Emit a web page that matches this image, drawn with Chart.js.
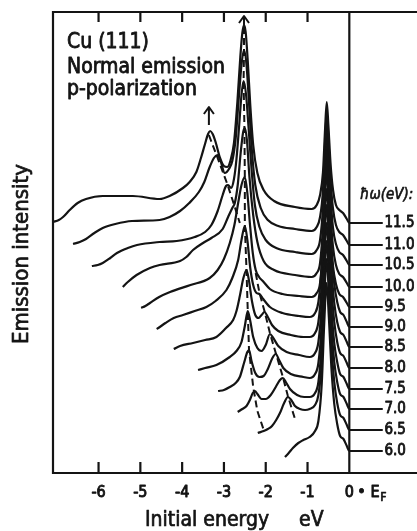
<!DOCTYPE html>
<html>
<head>
<meta charset="utf-8">
<title>Cu (111) normal emission spectra</title>
<script src="https://cdn.jsdelivr.net/npm/chart.js@4.4.1/dist/chart.umd.min.js"></script>
<style>
  html, body { margin: 0; padding: 0; background: #fff; overflow: hidden; }
  #wrap { width: 417px; height: 531px; overflow: hidden; }
  canvas { display: block; }
</style>
</head>
<body>
<div id="wrap"><canvas id="spectra" width="440" height="531"></canvas></div>
<script>
// photon energies, top curve first
const photonEnergies = ['11.5', '11.0', '10.5', '10.0', '9.5', '9.0', '8.5', '8.0', '7.5', '7.0', '6.5', '6.0'];
// zero line of every (offset) curve, arbitrary intensity units
const baselines = [250, 228, 208, 186, 166, 146, 126, 105, 84, 64, 43, 22];

// spectra as [initial energy (eV), intensity]
const spec115 = [[-7.09, 251], [-6.95, 253], [-6.85, 256], [-6.69, 263], [-6.5, 270], [-6.3, 274], [-5.9, 277], [-5.18, 277], [-4.54, 274], [-4.3, 277], [-3.98, 285], [-3.82, 291], [-3.66, 301], [-3.55, 315], [-3.46, 328], [-3.38, 339], [-3.33, 342], [-3.27, 339], [-3.2, 331], [-3.1, 316], [-3.0, 307], [-2.92, 306], [-2.84, 313], [-2.76, 330], [-2.68, 370], [-2.61, 415], [-2.56, 440], [-2.52, 448], [-2.48, 441], [-2.43, 412], [-2.37, 368], [-2.3, 328], [-2.2, 300], [-2.05, 283], [-1.8, 272], [-1.3, 266], [-0.9, 264], [-0.78, 268], [-0.7, 278], [-0.63, 301], [-0.58, 344], [-0.54, 371], [-0.5, 347], [-0.45, 310], [-0.39, 283], [-0.32, 268], [-0.24, 263], [-0.15, 260], [-0.06, 254], [0, 250], [0.8, 250]];
const spec110 = [[-6.61, 229], [-6.45, 231], [-6.3, 234], [-6.1, 240], [-5.9, 245], [-5.6, 249], [-5.2, 252], [-4.54, 253], [-4.3, 256], [-4.05, 262], [-3.83, 270], [-3.6, 281], [-3.47, 291], [-3.35, 305], [-3.24, 315], [-3.16, 318], [-3.08, 312], [-2.98, 300], [-2.88, 304], [-2.8, 312], [-2.72, 334], [-2.65, 372], [-2.58, 408], [-2.52, 423], [-2.46, 408], [-2.4, 370], [-2.33, 322], [-2.25, 288], [-2.12, 265], [-1.95, 253], [-1.7, 247], [-1.3, 244], [-0.9, 242], [-0.78, 246], [-0.7, 256], [-0.63, 283], [-0.58, 331], [-0.54, 360], [-0.5, 334], [-0.45, 294], [-0.39, 264], [-0.32, 248], [-0.24, 241], [-0.15, 238], [-0.06, 232], [0, 228], [0.8, 228]];
const spec105 = [[-6.16, 207], [-6.02, 208], [-5.9, 210], [-5.72, 215], [-5.56, 220], [-5.3, 225], [-5.08, 228], [-4.54, 231], [-4.13, 232], [-3.7, 236], [-3.45, 241], [-3.3, 248], [-3.15, 262], [-3.03, 278], [-2.95, 287], [-2.9, 288], [-2.83, 285], [-2.76, 294], [-2.7, 314], [-2.64, 345], [-2.58, 378], [-2.53, 392], [-2.47, 378], [-2.41, 345], [-2.34, 304], [-2.26, 268], [-2.15, 246], [-2.0, 233], [-1.75, 225], [-1.3, 221], [-0.9, 219], [-0.78, 223], [-0.7, 233], [-0.63, 266], [-0.58, 316], [-0.54, 346], [-0.5, 318], [-0.45, 277], [-0.39, 245], [-0.32, 229], [-0.24, 221], [-0.15, 218], [-0.06, 212], [0, 208], [0.8, 208]];
const spec100 = [[-5.42, 186], [-5.3, 191], [-5.09, 198], [-4.77, 205], [-4.54, 208], [-4.05, 212], [-3.9, 216], [-3.74, 223], [-3.5, 230], [-3.3, 235], [-3.03, 244], [-2.9, 256], [-2.8, 265], [-2.74, 270], [-2.67, 288], [-2.6, 320], [-2.54, 341], [-2.5, 345], [-2.45, 333], [-2.39, 296], [-2.3, 258], [-2.2, 231], [-2.05, 212], [-1.8, 203], [-1.3, 198], [-0.9, 196], [-0.78, 200], [-0.7, 210], [-0.63, 248], [-0.58, 301], [-0.54, 333], [-0.5, 304], [-0.45, 260], [-0.39, 226], [-0.32, 208], [-0.24, 199], [-0.15, 196], [-0.06, 190], [0, 186], [0.8, 186]];
const spec95 = [[-4.98, 165], [-4.88, 167], [-4.77, 170], [-4.55, 176], [-4.29, 181], [-3.8, 188], [-3.34, 195], [-3.15, 203], [-3.0, 214], [-2.86, 230], [-2.75, 248], [-2.66, 270], [-2.58, 288], [-2.5, 296], [-2.44, 280], [-2.38, 250], [-2.31, 220], [-2.24, 203], [-2.16, 196], [-2.07, 192], [-1.9, 184], [-1.6, 179], [-1.2, 177], [-0.9, 176], [-0.78, 180], [-0.7, 190], [-0.63, 229], [-0.58, 284], [-0.54, 317], [-0.5, 287], [-0.45, 242], [-0.39, 207], [-0.32, 189], [-0.24, 179], [-0.15, 176], [-0.06, 170], [0, 166], [0.8, 166]];
const spec90 = [[-4.61, 144], [-4.57, 145], [-4.4, 150], [-4.2, 155], [-3.98, 158], [-3.7, 162], [-3.42, 166], [-3.2, 172], [-2.94, 183], [-2.8, 195], [-2.66, 213], [-2.58, 233], [-2.5, 247], [-2.44, 233], [-2.37, 205], [-2.3, 188], [-2.22, 180], [-2.15, 179], [-2.06, 174], [-1.9, 166], [-1.6, 160], [-1.2, 157], [-0.95, 156], [-0.82, 160], [-0.74, 171], [-0.66, 208], [-0.6, 263], [-0.545, 300], [-0.49, 269], [-0.43, 223], [-0.36, 189], [-0.29, 171], [-0.22, 161], [-0.14, 158], [-0.06, 151], [0, 146], [0.8, 146]];
const spec85 = [[-4.2, 124], [-4.05, 127], [-3.74, 130], [-3.45, 133], [-3.18, 136], [-2.95, 145], [-2.78, 153], [-2.7, 162], [-2.62, 177], [-2.54, 194], [-2.46, 203], [-2.4, 192], [-2.33, 172], [-2.25, 158], [-2.17, 155], [-2.1, 158], [-2.03, 161], [-1.95, 156], [-1.85, 148], [-1.7, 142], [-1.4, 138], [-1.1, 136], [-0.95, 136], [-0.82, 140], [-0.74, 151], [-0.66, 189], [-0.6, 246], [-0.545, 284], [-0.49, 252], [-0.43, 205], [-0.36, 170], [-0.29, 151], [-0.22, 141], [-0.14, 138], [-0.06, 131], [0, 126], [0.8, 126]];
const spec80 = [[-3.62, 103], [-3.45, 105], [-3.18, 108], [-2.86, 116], [-2.7, 122], [-2.58, 131], [-2.5, 147], [-2.43, 162], [-2.37, 152], [-2.3, 136], [-2.2, 125], [-2.1, 122], [-2.0, 128], [-1.9, 139], [-1.82, 135], [-1.7, 127], [-1.5, 121], [-1.2, 118], [-0.95, 116], [-0.82, 120], [-0.74, 131], [-0.66, 170], [-0.6, 229], [-0.545, 268], [-0.49, 235], [-0.43, 187], [-0.36, 151], [-0.29, 131], [-0.22, 120], [-0.14, 117], [-0.06, 110], [0, 105], [0.8, 105]];
const spec75 = [[-3.14, 82], [-3.0, 83], [-2.86, 86], [-2.72, 90], [-2.62, 96], [-2.52, 110], [-2.44, 121], [-2.4, 123], [-2.34, 112], [-2.25, 100], [-2.15, 96], [-2.05, 97], [-1.95, 104], [-1.84, 115], [-1.76, 119], [-1.68, 113], [-1.58, 105], [-1.4, 99], [-1.1, 96], [-0.95, 95], [-0.82, 99], [-0.74, 110], [-0.66, 150], [-0.6, 210], [-0.545, 250], [-0.49, 217], [-0.43, 167], [-0.36, 130], [-0.29, 111], [-0.22, 99], [-0.14, 96], [-0.06, 89], [0, 84], [0.8, 84]];
const spec70 = [[-2.67, 61], [-2.56, 64], [-2.46, 67], [-2.38, 73], [-2.31, 80], [-2.26, 82], [-2.2, 79], [-2.1, 74], [-2.0, 74], [-1.88, 78], [-1.76, 86], [-1.66, 93], [-1.59, 95], [-1.52, 91], [-1.42, 84], [-1.25, 78], [-1.08, 76], [-0.95, 76], [-0.82, 80], [-0.74, 91], [-0.66, 131], [-0.6, 192], [-0.545, 232], [-0.49, 198], [-0.43, 148], [-0.36, 111], [-0.29, 91], [-0.22, 79], [-0.14, 76], [-0.06, 69], [0, 64], [0.8, 64]];
const spec65 = [[-2.19, 40], [-2.05, 42], [-1.95, 44], [-1.85, 47], [-1.75, 53], [-1.66, 60], [-1.56, 70], [-1.47, 76], [-1.39, 73], [-1.3, 67], [-1.18, 64], [-1.06, 63], [-0.95, 64], [-0.82, 68], [-0.74, 78], [-0.66, 111], [-0.6, 173], [-0.545, 214], [-0.49, 180], [-0.43, 129], [-0.36, 91], [-0.29, 70], [-0.22, 58], [-0.14, 55], [-0.06, 48], [0, 43], [0.8, 43]];
const spec60 = [[-1.54, 16], [-1.45, 20], [-1.35, 25], [-1.22, 30], [-1.1, 33], [-0.95, 36], [-0.82, 42], [-0.74, 52], [-0.66, 89], [-0.6, 150], [-0.545, 190], [-0.49, 156], [-0.43, 106], [-0.36, 69], [-0.29, 49], [-0.22, 37], [-0.14, 34], [-0.06, 27], [0, 22], [0.8, 22]];
const spectra = [spec115, spec110, spec105, spec100, spec95, spec90, spec85, spec80, spec75, spec70, spec65, spec60];

// dashed guides through the dispersing d-band peaks
const guideA = [[-2.52, 446], [-2.52, 420], [-2.53, 392], [-2.51, 345], [-2.5, 296], [-2.5, 247], [-2.46, 203], [-2.43, 162], [-2.4, 123], [-2.3, 86], [-2.2, 62], [-2.04, 42]];
const guideB = [[-3.36, 338], [-3.16, 316], [-2.92, 289], [-2.74, 266], [-2.62, 250]];
const guideC = [[-2.24, 200], [-2.15, 180], [-2.03, 162], [-1.9, 140], [-1.76, 120], [-1.59, 96], [-1.47, 77], [-1.3, 54]];
// off-scale peaks: [energy, arrow foot, arrow tip]
const peakArrows = [[-2.52, 446, 457], [-3.36, 348, 366]];

const xTicks = [-6, -5, -4, -3, -2, -1, 0];
const hvLabelAt = 0.84;   // eV, left edge of the hv labels

const INK = '#141414';
const FONT = '"DejaVu Sans Condensed", "DejaVu Sans", sans-serif';

const toXY = arr => arr.map(p => ({ x: p[0], y: p[1] }));

const datasets = spectra.map((s, i) => ({
  label: photonEnergies[i],
  data: toXY(s),
  showLine: true,
  borderColor: INK,
  borderWidth: 2.2,
  pointRadius: 0,
  fill: false,
  cubicInterpolationMode: 'monotone'
}));

[guideA, guideB, guideC].forEach((g, i) => {
  datasets.push({
    label: 'guide' + i,
    data: toXY(g),
    showLine: true,
    borderColor: INK,
    borderWidth: 2,
    borderDash: [7, 4],
    pointRadius: 0,
    fill: false,
    tension: 0
  });
});

// filled text with a thin outline, the scan's lettering is heavy
function ink(ctx, text, x, y, w) {
  ctx.fillText(text, x, y);
  ctx.lineWidth = w;
  ctx.strokeText(text, x, y);
}

const decor = {
  id: 'decor',
  beforeDatasetsDraw(chart) {
    const { ctx, chartArea: a, scales: { x } } = chart;
    ctx.save();
    ctx.strokeStyle = INK;
    ctx.lineWidth = 2.2;
    ctx.beginPath();
    ctx.moveTo(a.right + 10, a.top);
    ctx.lineTo(a.left, a.top);
    ctx.lineTo(a.left, a.bottom);
    ctx.lineTo(a.right + 10, a.bottom);
    const x0 = x.getPixelForValue(0);
    ctx.moveTo(x0, a.top);
    ctx.lineTo(x0, a.bottom);
    xTicks.forEach(v => {
      if (v === 0) return;
      const px = x.getPixelForValue(v);
      ctx.moveTo(px, a.bottom); ctx.lineTo(px, a.bottom - 11);
      ctx.moveTo(px, a.top); ctx.lineTo(px, a.top + 10);
    });
    ctx.stroke();
    ctx.restore();
  },
  afterDraw(chart) {
    const { ctx, scales: { x, y } } = chart;
    ctx.save();
    ctx.fillStyle = INK;
    ctx.strokeStyle = INK;
    ctx.lineJoin = 'round';

    // arrows on the off-scale peaks
    ctx.lineWidth = 2;
    peakArrows.forEach(([e, y0, y1]) => {
      const px = x.getPixelForValue(e);
      const tip = y.getPixelForValue(y1);
      ctx.beginPath();
      ctx.moveTo(px, y.getPixelForValue(y0));
      ctx.lineTo(px, tip);
      ctx.moveTo(px - 5, tip + 7);
      ctx.lineTo(px, tip);
      ctx.lineTo(px + 5, tip + 7);
      ctx.stroke();
    });

    // tick labels
    ctx.font = '16px ' + FONT;
    ctx.textAlign = 'center';
    ctx.textBaseline = 'alphabetic';
    xTicks.forEach(v => {
      ink(ctx, String(v), x.getPixelForValue(v), 497, 0.9);
    });
    const x0 = x.getPixelForValue(0);
    ctx.textAlign = 'left';
    ink(ctx, '\u2022 E', x0 + 8, 497, 0.9);
    ctx.font = '12px ' + FONT;
    ink(ctx, 'F', x0 + 31, 501, 0.7);

    // axis titles
    ctx.font = '21px ' + FONT;
    ink(ctx, 'Initial energy', 145, 526, 0.7);
    ink(ctx, 'eV', 299, 526, 0.7);
    ctx.save();
    ctx.translate(22, 254);
    ctx.rotate(-Math.PI / 2);
    ctx.textAlign = 'center';
    ctx.textBaseline = 'middle';
    ctx.font = '22px ' + FONT;
    ink(ctx, 'Emission intensity', 0, 0, 0.7);
    ctx.restore();

    // annotation
    ctx.font = '21px ' + FONT;
    ctx.textAlign = 'left';
    ink(ctx, 'Cu (111)', 67, 48, 0.8);
    ink(ctx, 'Normal emission', 67, 73, 0.8);
    ink(ctx, 'p-polarization', 67, 95, 0.8);

    // photon energy labels
    ctx.font = 'italic 15px ' + FONT;
    ctx.textBaseline = 'middle';
    ink(ctx, '\u0127\u03c9(eV):', 360, 195, 0.6);
    ctx.font = '15px ' + FONT;
    const lx = x.getPixelForValue(hvLabelAt);
    photonEnergies.forEach((t, i) => {
      ink(ctx, t, lx, y.getPixelForValue(baselines[i]), 0.8);
    });
    ctx.restore();
  }
};

new Chart(document.getElementById('spectra'), {
  type: 'scatter',
  data: { datasets },
  options: {
    responsive: false,
    animation: false,
    devicePixelRatio: 1,
    layout: { padding: { left: 53, right: 5, top: 12, bottom: 58 } },
    plugins: { legend: { display: false }, tooltip: { enabled: false } },
    scales: {
      x: { type: 'linear', min: -7.09, max: 2.05, display: false },
      y: { type: 'linear', min: 0, max: 461, display: false }
    }
  },
  plugins: [decor]
});
</script>
</body>
</html>
